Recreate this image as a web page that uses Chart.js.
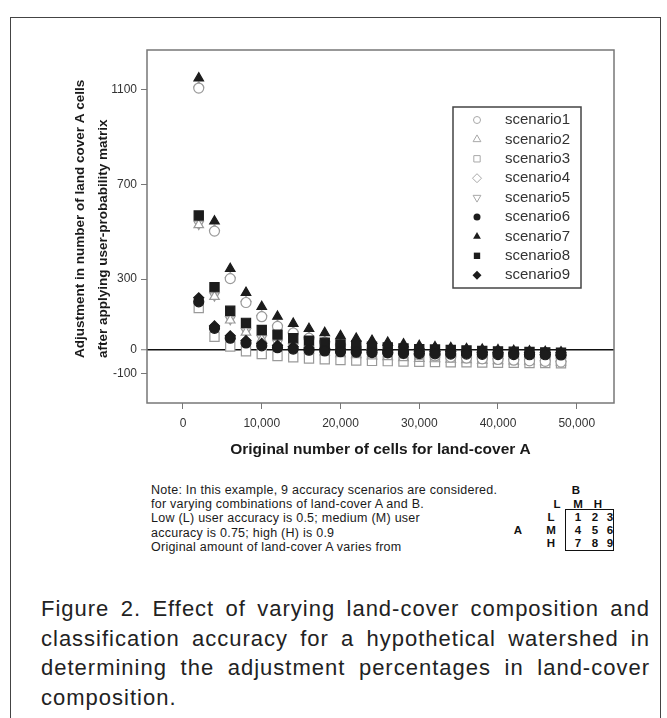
<!DOCTYPE html>
<html>
<head>
<meta charset="utf-8">
<script src="https://cdn.jsdelivr.net/npm/chart.js@4"></script>
<style>
  body { margin: 0; background: #fff; width: 667px; height: 718px; position: relative; overflow: hidden; font-family: "Liberation Sans", Arial, sans-serif; }
  #frame { position: absolute; left: 10px; top: 17px; width: 649px; height: 720px; border: 1.5px solid #444; border-bottom: none; }
  #chartBox { position: absolute; left: 0; top: 0; }
  #note { position: absolute; left: 151px; top: 483px; font-size: 12.5px; line-height: 14.2px; color: #1a1a1a; letter-spacing: 0.25px; white-space: nowrap; }
  .m { position: absolute; font-weight: bold; font-size: 11.5px; color: #111; width: 20px; margin-left: -10px; text-align: center; height: 12px; line-height: 12px; }
  #mbox { position: absolute; left: 565px; top: 509px; width: 47px; height: 40px; border: 1.5px solid #111; box-sizing: content-box; }
  #caption { position: absolute; left: 41px; top: 594px; width: 609px; font-size: 22px; color: #222; letter-spacing: 1px; }
  #caption div { height: 29.5px; line-height: 29.5px; white-space: nowrap; }
  #caption .j { text-align: justify; text-align-last: justify; white-space: normal; }
</style>
</head>
<body>
<div id="frame"></div>
<div id="chartBox"><canvas id="adjChart" width="667" height="470"></canvas></div>

<div id="note">
  Note: In this example, 9 accuracy scenarios are considered.<br>
  for varying combinations of land-cover A and B.<br>
  Low (L) user accuracy is 0.5; medium (M) user<br>
  accuracy is 0.75; high (H) is 0.9<br>
  Original amount of land-cover A varies from
</div>

<!-- accuracy matrix: spans are placed by their top edge (12px line box) -->
<div id="mbox"></div>
<span class="m" style="left:576px;top:484px">B</span>
<span class="m" style="left:557px;top:498px">L</span>
<span class="m" style="left:578px;top:498px">M</span>
<span class="m" style="left:598px;top:498px">H</span>
<span class="m" style="left:518px;top:524px">A</span>
<span class="m" style="left:551px;top:511px">L</span>
<span class="m" style="left:551px;top:524px">M</span>
<span class="m" style="left:551px;top:537px">H</span>
<span class="m" style="left:578px;top:511px">1</span>
<span class="m" style="left:595px;top:511px">2</span>
<span class="m" style="left:610px;top:511px">3</span>
<span class="m" style="left:578px;top:524px">4</span>
<span class="m" style="left:595px;top:524px">5</span>
<span class="m" style="left:610px;top:524px">6</span>
<span class="m" style="left:578px;top:537px">7</span>
<span class="m" style="left:595px;top:537px">8</span>
<span class="m" style="left:610px;top:537px">9</span>

<div id="caption">
  <div class="j">Figure 2. Effect of varying land-cover composition and</div>
  <div class="j">classification accuracy for a hypothetical watershed in</div>
  <div class="j">determining the adjustment percentages in land-cover</div>
  <div>composition.</div>
</div>

<script>
// original number of cells for land-cover A
var cellsA = [2000, 4000, 6000, 8000, 10000, 12000, 14000, 16000, 18000, 20000, 22000, 24000,
              26000, 28000, 30000, 32000, 34000, 36000, 38000, 40000, 42000, 44000, 46000, 48000];

// adjustment values
var scenario1 = [1108, 503, 302, 201, 141, 100, 72, 50, 33, 20, 9, 0, -8, -15, -20, -25, -30, -34, -37, -40, -43, -46, -48, -51];
var scenario2 = [529, 226, 126, 75, 45, 25, 10, 0, -9, -16, -21, -26, -29, -33, -36, -38, -40, -42, -44, -46, -47, -48, -50, -51];
var scenario3 = [178, 56, 15, -5, -17, -25, -31, -36, -39, -42, -44, -46, -47, -49, -50, -51, -52, -52, -53, -54, -54, -55, -55, -56];
var scenario4 = [1112, 507, 306, 205, 145, 104, 76, 54, 37, 24, 13, 4, -4, -11, -16, -21, -26, -30, -33, -36, -39, -42, -44, -47];
var scenario5 = [533, 230, 130, 79, 49, 29, 14, 4, -5, -12, -17, -22, -25, -29, -32, -34, -36, -38, -40, -42, -43, -44, -46, -47];
var scenario6 = [204, 92, 50, 30, 18, 10, 4, -1, -4, -7, -9, -11, -12, -14, -15, -16, -17, -17, -18, -19, -19, -20, -20, -21];
var scenario7 = [1150, 545, 344, 243, 183, 142, 112, 90, 73, 60, 49, 40, 32, 25, 18, 13, 9, 5, 2, 0, -3, -5, -7, -9];
var scenario8 = [569, 266, 166, 115, 85, 65, 50, 40, 31, 24, 19, 14, 11, 7, 4, 2, 0, -2, -4, -6, -7, -8, -10, -11];
var scenario9 = [221, 102, 60, 40, 28, 20, 14, 9, 6, 3, 1, -1, -2, -4, -5, -6, -7, -7, -8, -9, -9, -10, -10, -11];

var seriesNames = ['scenario1', 'scenario2', 'scenario3', 'scenario4', 'scenario5',
                   'scenario6', 'scenario7', 'scenario8', 'scenario9'];
var seriesValues = [scenario1, scenario2, scenario3, scenario4, scenario5,
                    scenario6, scenario7, scenario8, scenario9];

var xTickValues = [0, 10000, 20000, 30000, 40000, 50000];
var xTickLabels = ['0', '10,000', '20,000', '30,000', '40,000', '50,000'];
var yTickValues = [-100, 0, 300, 700, 1100];
var yTickLabels = ['-100', '0', '300', '700', '1100'];

// marker look per scenario (open grey ones, filled black ones)
var OPEN = '#9a9a9a', FILLED = '#1c1c1c';
var markers = [
    { style: 'circle',   rot: 0,   r: 5,   open: true,  order: 2 },
    { style: 'triangle', rot: 0,   r: 5.5, open: true,  order: 2 },
    { style: 'rect',     rot: 0,   r: 6.5, open: true,  order: 2 },
    { style: 'rectRot',  rot: 0,   r: 5,   open: true,  order: 3 },
    { style: 'triangle', rot: 180, r: 5.5, open: true,  order: 3 },
    { style: 'circle',   rot: 0,   r: 5,   open: false, order: 1 },
    { style: 'triangle', rot: 0,   r: 5.5, open: false, order: 1 },
    { style: 'rect',     rot: 0,   r: 6.5, open: false, order: 1 },
    { style: 'rectRot',  rot: 0,   r: 5,   open: false, order: 1 }
];

var datasets = seriesNames.map(function (name, i) {
    var m = markers[i];
    return {
        label: name,
        data: cellsA.map(function (x, j) { return { x: x, y: seriesValues[i][j] }; }),
        pointStyle: m.style,
        pointRotation: m.rot,
        pointRadius: m.r,
        pointBorderWidth: 1.2,
        pointBorderColor: m.open ? OPEN : FILLED,
        pointBackgroundColor: m.open ? '#ffffff' : FILLED,
        showLine: false,
        order: m.order
    };
});

function drawMarker(ctx, m, x, y, r) {
    ctx.beginPath();
    if (m.style === 'circle') {
        ctx.arc(x, y, r, 0, Math.PI * 2);
    } else if (m.style === 'rect') {
        var s = r * Math.SQRT1_2;
        ctx.rect(x - s, y - s, 2 * s, 2 * s);
    } else if (m.style === 'rectRot') {
        ctx.moveTo(x, y - r); ctx.lineTo(x + r, y); ctx.lineTo(x, y + r); ctx.lineTo(x - r, y);
        ctx.closePath();
    } else {
        var d = m.rot === 180 ? -1 : 1;
        ctx.moveTo(x, y - d * r);
        ctx.lineTo(x + r * 0.866, y + d * r * 0.5);
        ctx.lineTo(x - r * 0.866, y + d * r * 0.5);
        ctx.closePath();
    }
    if (m.open) {
        ctx.strokeStyle = '#a8a8a8';
        ctx.lineWidth = 1;
        ctx.stroke();
    } else {
        ctx.fillStyle = FILLED;
        ctx.fill();
    }
}

var framePlugin = {
    id: 'framePlugin',
    beforeDatasetsDraw: function (chart) {
        var a = chart.chartArea, ctx = chart.ctx;
        ctx.save();
        ctx.strokeStyle = '#777';
        ctx.lineWidth = 1.5;
        ctx.strokeRect(a.left, a.top, a.right - a.left, a.bottom - a.top);
        ctx.restore();
    },
    afterDraw: function (chart) {
        var ctx = chart.ctx;
        ctx.save();
        // y axis title, two lines, starting at the same bottom point
        ctx.fillStyle = '#1a1a1a';
        ctx.font = 'bold 13.5px "Liberation Sans", Arial, sans-serif';
        ctx.textBaseline = 'middle';
        ctx.textAlign = 'left';
        var lines = ['Adjustment in number of land cover A cells', 'after applying user-probability matrix'];
        [80, 103].forEach(function (lx, i) {
            ctx.save();
            ctx.translate(lx, 358);
            ctx.rotate(-Math.PI / 2);
            ctx.fillText(lines[i], 0, 0);
            ctx.restore();
        });

        // legend box inside the plot
        ctx.strokeStyle = '#444';
        ctx.lineWidth = 1.5;
        ctx.strokeRect(453, 107, 128, 181);
        ctx.font = '15px "Liberation Sans", Arial, sans-serif';
        chart.data.datasets.forEach(function (ds, i) {
            var yy = 120 + i * 19.4;
            drawMarker(ctx, markers[i], 477, yy, markers[i].style === 'circle' ? 3.5 : 4.5);
            ctx.fillStyle = '#333';
            ctx.fillText(ds.label, 505, yy);
        });
        ctx.restore();
    }
};

var ctx = document.getElementById('adjChart').getContext('2d');
var adjChart = new Chart(ctx, {
    type: 'scatter',
    data: { datasets: datasets },
    options: {
        responsive: false,
        animation: false,
        devicePixelRatio: 1,
        layout: { padding: { top: 50, right: 53, left: 0, bottom: 0 } },
        plugins: { legend: { display: false }, tooltip: { enabled: false } },
        scales: {
            x: {
                type: 'linear',
                min: -4570,
                max: 54730,
                afterBuildTicks: function (scale) {
                    scale.ticks = xTickValues.map(function (v) { return { value: v }; });
                },
                afterFit: function (scale) { scale.height = 67; },
                ticks: {
                    color: '#333',
                    font: { size: 12, family: '"Liberation Sans", Arial, sans-serif' },
                    padding: 7,
                    maxRotation: 0,
                    callback: function (v) { return xTickLabels[xTickValues.indexOf(v)]; }
                },
                grid: { drawOnChartArea: false, tickLength: 6, tickColor: '#777', tickWidth: 1 },
                border: { display: false },
                title: {
                    display: true,
                    text: 'Original number of cells for land-cover A',
                    color: '#1a1a1a',
                    font: { size: 15.5, weight: 'bold', family: '"Liberation Sans", Arial, sans-serif' },
                    padding: { top: 0, bottom: 11 }
                }
            },
            y: {
                min: -224,
                max: 1269,
                afterBuildTicks: function (scale) {
                    scale.ticks = yTickValues.map(function (v) { return { value: v }; });
                },
                afterFit: function (scale) { scale.width = 147; },
                ticks: {
                    color: '#333',
                    font: { size: 12, family: '"Liberation Sans", Arial, sans-serif' },
                    padding: 4,
                    callback: function (v) { return yTickLabels[yTickValues.indexOf(v)]; }
                },
                grid: {
                    color: function (c) { return c.tick && c.tick.value === 0 ? '#111' : 'rgba(0,0,0,0)'; },
                    lineWidth: function (c) { return c.tick && c.tick.value === 0 ? 1.5 : 1; },
                    tickLength: 6,
                    tickColor: '#777',
                    tickWidth: 1
                },
                border: { display: false }
            }
        }
    },
    plugins: [framePlugin]
});
</script>
</body>
</html>
